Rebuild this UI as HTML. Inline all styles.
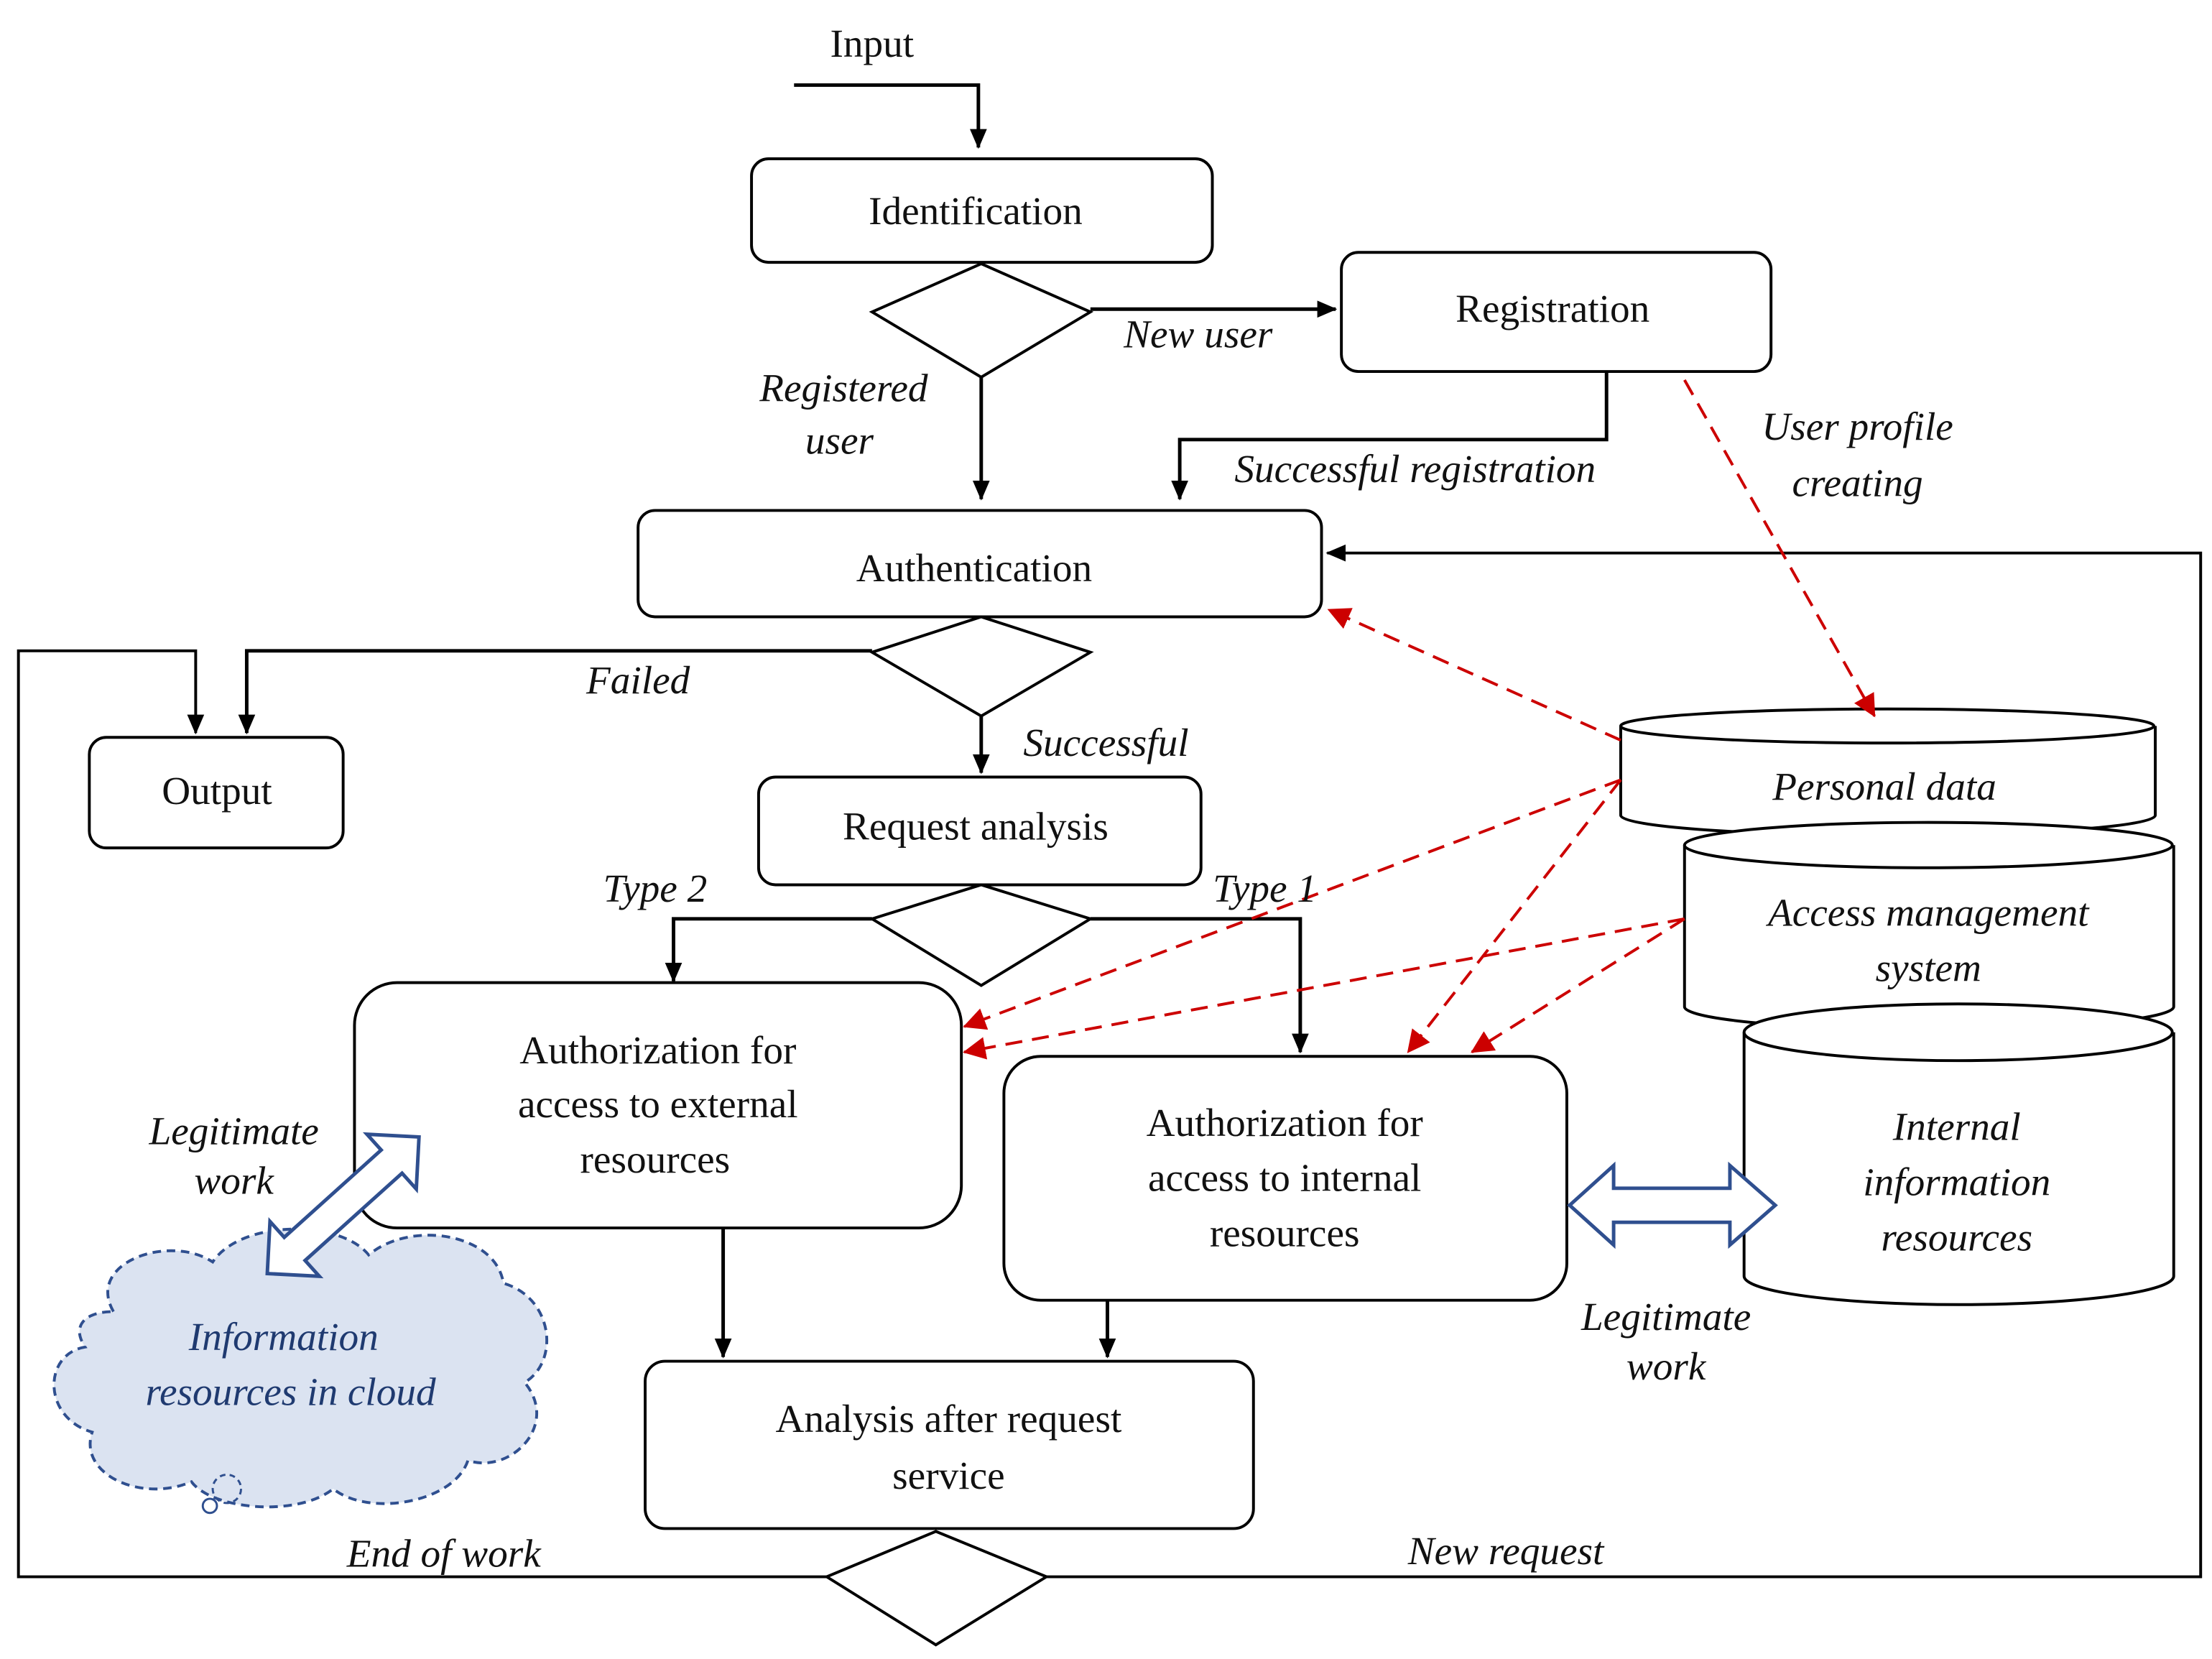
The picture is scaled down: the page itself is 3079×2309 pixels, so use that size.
<!DOCTYPE html>
<html><head><meta charset="utf-8"><style>
html,body{margin:0;padding:0;background:#fff;}
svg{display:block;}
text{font-family:"Liberation Serif",serif;font-size:28px;fill:#111;text-anchor:middle;}
.i{font-style:italic;}
</style></head><body>
<svg width="3079" height="2309" viewBox="0 0 1560 1170" preserveAspectRatio="none" xmlns="http://www.w3.org/2000/svg">
<defs>
<marker id="a" markerWidth="14" markerHeight="14" refX="13" refY="7" orient="auto" markerUnits="userSpaceOnUse" viewBox="0 0 14 14"><path d="M0,1L14,7L0,13z" fill="#000"/></marker>
<marker id="r" markerWidth="16" markerHeight="16" refX="15" refY="8" orient="auto" markerUnits="userSpaceOnUse" viewBox="0 0 16 16"><path d="M0,0L16,8L0,16z" fill="#c00"/></marker>
</defs>
<g fill="none" stroke="#000" stroke-width="2">
<polyline points="560,60 690,60 690,104" marker-end="url(#a)" stroke-width="2.5"/>
<rect x="530" y="112" width="325" height="73" rx="12"/>
<polygon points="615,220 692,186 769,220 692,266"/>
<line x1="769" y1="218" x2="942" y2="218" marker-end="url(#a)" stroke-width="2.5"/>
<rect x="946" y="178" width="303" height="84" rx="12"/>
<line x1="692" y1="266" x2="692" y2="352" marker-end="url(#a)" stroke-width="2.5"/>
<polyline points="1133,262 1133,310 832,310 832,352" marker-end="url(#a)" stroke-width="2.5"/>
<rect x="450" y="360" width="482" height="75" rx="12"/>
<polyline points="738,1112 1552,1112 1552,390 936,390" marker-end="url(#a)"/>
<polygon points="615,460 692,435 769,460 692,505"/>
<polyline points="615,459 174,459 174,517" marker-end="url(#a)" stroke-width="2.5"/>
<polyline points="583,1112 13,1112 13,459 138,459 138,517" marker-end="url(#a)"/>
<rect x="63" y="520" width="179" height="78" rx="12"/>
<line x1="692" y1="505" x2="692" y2="545" marker-end="url(#a)" stroke-width="2.5"/>
<rect x="535" y="548" width="312" height="76" rx="12"/>
<polygon points="615,648 692,624 769,648 692,695"/>
<polyline points="615,648 475,648 475,692" marker-end="url(#a)" stroke-width="2.5"/>
<polyline points="769,648 917,648 917,742" marker-end="url(#a)" stroke-width="2.5"/>
<rect x="250" y="693" width="428" height="173" rx="30"/>
<rect x="708" y="745" width="397" height="172" rx="26"/>
<line x1="510" y1="866" x2="510" y2="957" marker-end="url(#a)" stroke-width="2.5"/>
<line x1="781" y1="917" x2="781" y2="957" marker-end="url(#a)" stroke-width="2.5"/>
<rect x="455" y="960" width="429" height="118" rx="14"/>
<polygon points="583,1112 660,1080 738,1112 660,1160"/>
<path d="M1143,512 L1143,575 A188,14 0 0 0 1520,575 L1520,512" fill="#fff"/>
<ellipse cx="1331" cy="512" rx="188" ry="12" fill="#fff"/>
<path d="M1188,596 L1188,710 A172,16 0 0 0 1533,710 L1533,596" fill="#fff"/>
<ellipse cx="1360" cy="596" rx="172" ry="16" fill="#fff"/>
<path d="M1230,728 L1230,900 A151,20 0 0 0 1533,900 L1533,728" fill="#fff"/>
<ellipse cx="1381" cy="728" rx="151" ry="20" fill="#fff"/>
</g>
<g stroke="#c00" stroke-width="2" stroke-dasharray="12,7" fill="none">
<line x1="1188" y1="268" x2="1322" y2="505" marker-end="url(#r)"/>
<line x1="1143" y1="522" x2="937" y2="430" marker-end="url(#r)"/>
<line x1="1143" y1="550" x2="680" y2="724" marker-end="url(#r)"/>
<line x1="1143" y1="550" x2="993" y2="742" marker-end="url(#r)"/>
<line x1="1188" y1="648" x2="680" y2="742" marker-end="url(#r)"/>
<line x1="1188" y1="648" x2="1038" y2="742" marker-end="url(#r)"/>
</g>
<path d="M80,925 C60,890 120,870 150,890 C170,860 240,860 260,885 C290,860 350,870 355,905 C390,915 395,960 370,975 C395,1005 360,1040 330,1030 C320,1060 260,1070 235,1050 C210,1070 150,1065 135,1045 C100,1060 55,1040 65,1010 C30,1000 30,955 60,950 C50,935 60,925 80,925 Z" fill="#dbe3f1" stroke="#2f4f8f" stroke-width="2" stroke-dasharray="6,4"/>
<circle cx="160" cy="1050" r="10" fill="none" stroke="#2f4f8f" stroke-width="1.5" stroke-dasharray="4,3"/>
<circle cx="148" cy="1062" r="5" fill="none" stroke="#2f4f8f" stroke-width="1.5"/>
<polygon points="1107,850 1138,822 1138,838 1220,838 1220,822 1252,850 1220,878 1220,862 1138,862 1138,878" fill="#fff" stroke="#2f4f8f" stroke-width="2.5"/>
<g transform="translate(242,850) rotate(-42)">
<polygon points="-72,0 -46,-26 -46,-11 46,-11 46,-26 72,0 46,26 46,11 -46,11 -46,26" fill="#fff" stroke="#2f4f8f" stroke-width="2.5"/>
</g>
<text x="615" y="40">Input</text>
<text x="688" y="158">Identification</text>
<text x="1095" y="227">Registration</text>
<text x="845" y="245" class="i">New user</text>
<text x="595" y="283" class="i">Registered</text>
<text x="592" y="320" class="i">user</text>
<text x="998" y="340" class="i">Successful registration</text>
<text x="1310" y="310" class="i">User profile</text>
<text x="1310" y="350" class="i">creating</text>
<text x="687" y="410">Authentication</text>
<text x="450" y="489" class="i">Failed</text>
<text x="153" y="567">Output</text>
<text x="780" y="533" class="i">Successful</text>
<text x="688" y="592">Request analysis</text>
<text x="462" y="636" class="i">Type 2</text>
<text x="892" y="636" class="i">Type 1</text>
<text x="464" y="750">Authorization for</text>
<text x="464" y="788">access to external</text>
<text x="462" y="827">resources</text>
<text x="906" y="801">Authorization for</text>
<text x="906" y="840">access to internal</text>
<text x="906" y="879">resources</text>
<text x="669" y="1010">Analysis after request</text>
<text x="669" y="1050">service</text>
<text x="313" y="1105" class="i">End of work</text>
<text x="1062" y="1103" class="i">New request</text>
<text x="1329" y="564" class="i">Personal data</text>
<text x="1360" y="653" class="i">Access management</text>
<text x="1360" y="692" class="i">system</text>
<text x="1380" y="804" class="i">Internal</text>
<text x="1380" y="843" class="i">information</text>
<text x="1380" y="882" class="i">resources</text>
<text x="165" y="807" class="i">Legitimate</text>
<text x="165" y="842" class="i">work</text>
<text x="1175" y="938" class="i">Legitimate</text>
<text x="1175" y="973" class="i">work</text>
<text x="200" y="952" class="i" style="fill:#1f3a70">Information</text>
<text x="205" y="991" class="i" style="fill:#1f3a70">resources in cloud</text>
</svg>
</body></html>
